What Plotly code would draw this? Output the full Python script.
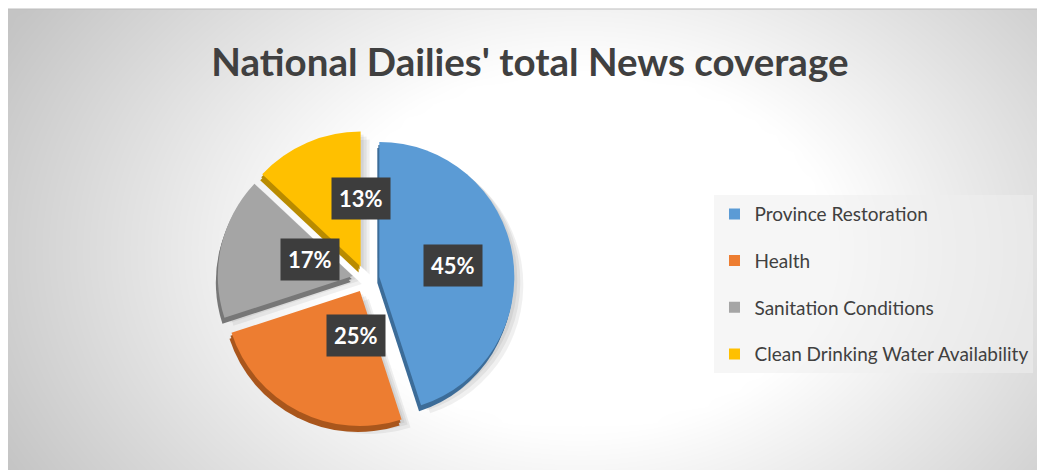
import math
import numpy as np
import plotly.graph_objects as go

# ---- data -------------------------------------------------------------
categories = [
    "Province Restoration",
    "Health",
    "Sanitation Conditions",
    "Clean Drinking Water Availability",
]
shares = [45, 25, 17, 13]

# ---- styling ----------------------------------------------------------
top_colors = ["#5B9BD5", "#ED7D31", "#A5A5A5", "#FFC000"]
side_colors = ["#3C6C98", "#A9561C", "#777777", "#B98B00"]
TEXT_DARK = "#404040"
FONT = "Lato, Liberation Sans, Arial, sans-serif"

W, H = 1037, 470
# pie centre / radius in pixels, and explode factor
CX, CY, R, PULL = 366, 279, 135, 0.10
LABEL_FRAC = 0.55  # radial position of value labels (fraction of radius)


def pie_domain(dx=0.0, dy=0.0):
    half = R * (1 + PULL)
    return dict(
        x=[(CX + dx - half) / W, (CX + dx + half) / W],
        y=[(H - (CY + dy + half)) / H, (H - (CY + dy - half)) / H],
    )


def pie_layer(colors, dx=0.0, dy=0.0):
    return go.Pie(
        labels=categories,
        values=shares,
        sort=False,
        direction="clockwise",
        rotation=0,
        pull=PULL,
        marker=dict(colors=colors, line=dict(width=0)),
        textinfo="none",
        hoverinfo="skip",
        showlegend=False,
        domain=pie_domain(dx, dy),
    )


fig = go.Figure()

# soft radial backdrop (light centre fading to grey edges)
gx = np.linspace(8, W, 60)
gy = np.linspace(9, H, 30)
XX, YY = np.meshgrid(gx, gy)
dist = np.sqrt((XX - 580) ** 2 + (1.4 * (YY - 250)) ** 2)
shade = np.clip((dist - 250) / 400, 0, 1)
fig.add_trace(
    go.Heatmap(
        x=gx, y=gy, z=shade, zmin=0, zmax=1, zsmooth="best",
        colorscale=[[0, "#ffffff"], [1, "#c4c4c4"]],
        showscale=False, hoverinfo="skip",
    )
)

# legend entries (one group each so the gap between entries can be set)
for name, col in zip(categories, top_colors):
    fig.add_trace(
        go.Scatter(
            x=[None], y=[None], mode="markers", name=name, legendgroup=name,
            marker=dict(symbol="square", size=11, color=col),
            hoverinfo="skip",
        )
    )

# drop shadow, 3-D side wall, then the top face of the pie
for sx, sy in [(9, 8), (6, 5), (3, 3)]:
    fig.add_trace(pie_layer(["rgba(0,0,0,0.06)"] * len(shares), sx, sy))
fig.add_trace(pie_layer(side_colors, -1, 3))
fig.add_trace(pie_layer(side_colors, -2, 6))
fig.add_trace(pie_layer(top_colors))

# value labels in dark boxes at each slice's mid-angle
total = sum(shares)
start = 0.0
annotations = []
for v in shares:
    mid = (start + v / 2) / total * 2 * math.pi
    start += v
    d = R * (PULL + LABEL_FRAC)
    px = CX + d * math.sin(mid)
    py = CY - d * math.cos(mid)
    annotations.append(
        dict(
            x=px / W, y=1 - py / H, xref="paper", yref="paper",
            text=f"<b>{round(v / total * 100)}%</b>", showarrow=False,
            font=dict(family=FONT, size=22, color="white"),
            bgcolor="#3d3d3d", borderpad=7,
        )
    )

fig.update_layout(
    width=W, height=H,
    margin=dict(l=0, r=0, t=0, b=0),
    paper_bgcolor="white",
    plot_bgcolor="white",
    title=dict(
        text="<b>National Dailies' total News coverage</b>",
        x=0.511, xanchor="center", y=0.868, yanchor="middle",
        font=dict(family=FONT, size=38.5, color=TEXT_DARK),
    ),
    xaxis=dict(visible=False, range=[8, W], domain=[8 / W, 1], fixedrange=True),
    yaxis=dict(visible=False, range=[H, 9], domain=[0, 461 / H], fixedrange=True),
    legend=dict(
        x=0.689, y=0.585, xanchor="left", yanchor="top",
        bgcolor="rgba(238,238,238,0.55)",
        borderwidth=0,
        font=dict(family=FONT, size=19, color=TEXT_DARK),
        tracegroupgap=19, itemclick=False, itemdoubleclick=False,
    ),
    annotations=annotations,
    shapes=[
        dict(type="line", xref="paper", yref="paper",
             x0=8 / W, x1=1, y0=461 / H, y1=461 / H,
             line=dict(color="#bdbdbd", width=1)),
    ],
    showlegend=True,
)

fig.write_html("out.html", config={"displayModeBar": False})
